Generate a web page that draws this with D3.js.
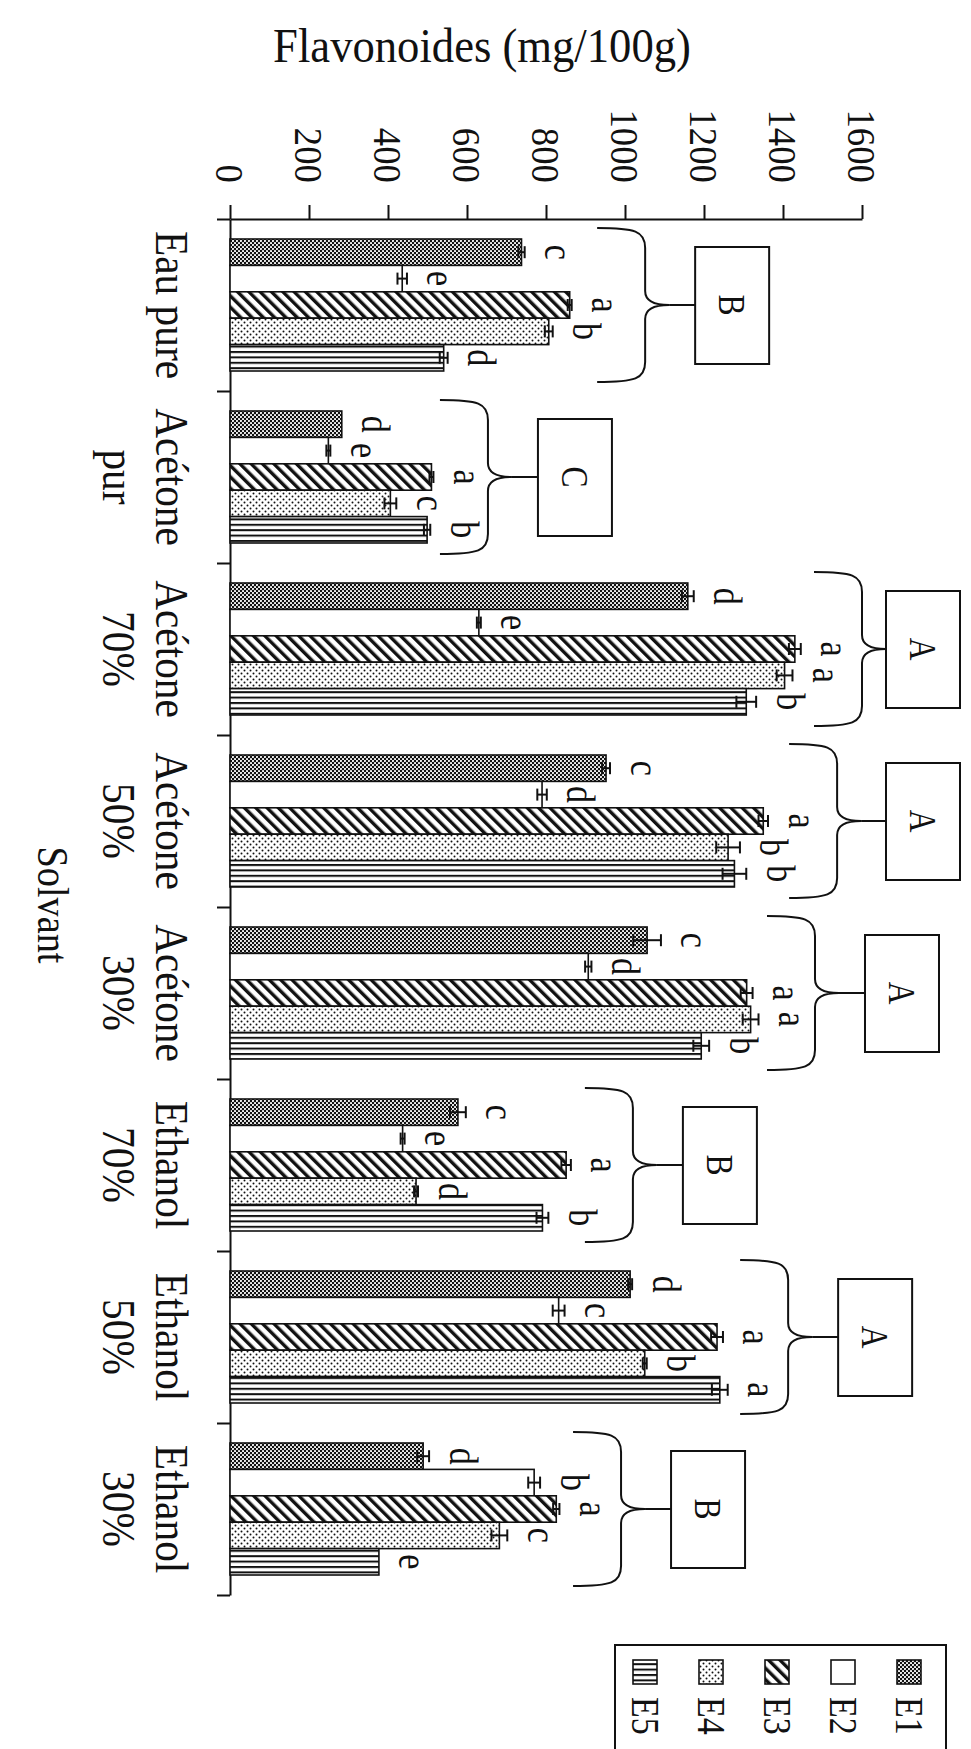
<!DOCTYPE html>
<html>
<head>
<meta charset="utf-8">
<script src="https://cdn.jsdelivr.net/npm/d3@7"></script>
<style>
  body { margin: 0; background: #fff; }
  svg { display: block; }
  text { font-family: "Liberation Serif", "Times New Roman", serif; fill: #111; }
</style>
</head>
<body>
<svg id="chart"></svg>
<script>
// solvents (chart is drawn turned a quarter, as in the scan)
const categories = ["Eau pure", "Acétone pur", "Acétone 70%", "Acétone 50%", "Acétone 30%", "Ethanol 70%", "Ethanol 50%", "Ethanol 30%"]
const categoryLines = [["Eau pure"], ["Acétone", "pur"], ["Acétone", "70%"], ["Acétone", "50%"], ["Acétone", "30%"], ["Ethanol", "70%"], ["Ethanol", "50%"], ["Ethanol", "30%"]]
const series = ["E1", "E2", "E3", "E4", "E5"]

// flavonoides (mg/100g)
const e1 = [738, 283, 1159, 952, 1056, 577, 1013, 489]
const e2 = [436, 249, 630, 790, 907, 437, 832, 770]
const e3 = [860, 510, 1430, 1350, 1308, 851, 1233, 826]
const e4 = [807, 406, 1404, 1261, 1318, 471, 1050, 682]
const e5 = [541, 499, 1307, 1277, 1193, 791, 1240, 377]

// error bars
const err1 = [8, 0, 15, 10, 35, 20, 5, 15]
const err2 = [12, 5, 5, 12, 8, 5, 15, 15]
const err3 = [5, 5, 15, 12, 15, 12, 15, 8]
const err4 = [10, 15, 20, 30, 20, 5, 5, 20]
const err5 = [10, 8, 25, 30, 20, 15, 20, 0]

// significance letters
const let1 = ["c", "d", "d", "c", "c", "c", "d", "d"]
const let2 = ["e", "e", "e", "d", "d", "e", "c", "b"]
const let3 = ["a", "a", "a", "a", "a", "a", "a", "a"]
const let4 = ["b", "c", "a", "b", "a", "d", "b", "c"]
const let5 = ["d", "b", "b", "b", "b", "b", "a", "e"]

const groupLetters = ["B", "C", "A", "A", "A", "B", "A", "B"]
// where each brace sits, in value units
const braceAt = [1051, 653, 1600, 1537, 1481, 1020, 1413, 990]

const valueTicks = [0, 200, 400, 600, 800, 1000, 1200, 1400, 1600]

const allValues = [e1, e2, e3, e4, e5]
const allErrors = [err1, err2, err3, err4, err5]
const allLetters = [let1, let2, let3, let4, let5]

const width = 971, height = 1749
const svg = d3.select("#chart").attr("width", width).attr("height", height)

const x = d3.scaleLinear().domain([0, 1600]).range([230, 862])
const y = d3.scaleBand().domain(categories).range([219, 1595])
const yIn = d3.scaleBand().domain(series).range([20, y.bandwidth() - 20])

// patterns
const defs = svg.append("defs")

const p1 = defs.append("pattern").attr("id", "pE1").attr("patternUnits", "userSpaceOnUse")
    .attr("width", 4).attr("height", 4)
p1.append("rect").attr("width", 4).attr("height", 4).attr("fill", "#111")
p1.append("circle").attr("cx", 1).attr("cy", 1).attr("r", 1.05).attr("fill", "#fff")
p1.append("circle").attr("cx", 3).attr("cy", 3).attr("r", 1.05).attr("fill", "#fff")

const p3 = defs.append("pattern").attr("id", "pE3").attr("patternUnits", "userSpaceOnUse")
    .attr("width", 8).attr("height", 8).attr("patternTransform", "rotate(-45)")
p3.append("rect").attr("width", 8).attr("height", 8).attr("fill", "#fff")
p3.append("rect").attr("width", 3.4).attr("height", 8).attr("fill", "#111")

const p4 = defs.append("pattern").attr("id", "pE4").attr("patternUnits", "userSpaceOnUse")
    .attr("width", 6).attr("height", 6)
p4.append("rect").attr("width", 6).attr("height", 6).attr("fill", "#fff")
p4.append("circle").attr("cx", 1.5).attr("cy", 1.5).attr("r", 1).attr("fill", "#111")
p4.append("circle").attr("cx", 4.5).attr("cy", 4.5).attr("r", 1).attr("fill", "#111")

const p5 = defs.append("pattern").attr("id", "pE5").attr("patternUnits", "userSpaceOnUse")
    .attr("width", 6).attr("height", 5.4)
p5.append("rect").attr("width", 6).attr("height", 5.4).attr("fill", "#fff")
p5.append("rect").attr("y", 0).attr("width", 6).attr("height", 2).attr("fill", "#111")

const fills = ["url(#pE1)", "#fff", "url(#pE3)", "url(#pE4)", "url(#pE5)"]

// rotated, slightly narrow text like the scan
function rotText(sel, px, py, txt, size, anchor, squeeze = 0.85) {
    return sel.append("text")
        .attr("transform", `translate(${px},${py}) rotate(90) scale(${squeeze},1)`)
        .attr("text-anchor", anchor)
        .style("font-size", size + "px")
        .text(txt)
}

// value axis along the top
const xAxis = svg.append("g")
    .attr("transform", "translate(0,219)")
    .call(d3.axisTop(x).tickValues(valueTicks).tickSize(14).tickSizeOuter(0).tickFormat(""))
xAxis.select(".domain").attr("stroke", "#111").attr("stroke-width", 2)
xAxis.selectAll(".tick line").attr("stroke", "#111").attr("stroke-width", 2)

valueTicks.forEach(v => {
    rotText(svg, x(v), 183, String(v), 40, "end", 0.92).attr("dominant-baseline", "central")
})

// category axis on the left, ticks at the band edges
const edge = d3.scaleLinear().domain([0, categories.length]).range(y.range())
const yAxis = svg.append("g")
    .attr("transform", "translate(230,0)")
    .call(d3.axisLeft(edge).tickValues(d3.range(categories.length + 1)).tickSize(13).tickSizeOuter(0).tickFormat(""))
yAxis.select(".domain").attr("stroke", "#111").attr("stroke-width", 2)
yAxis.selectAll(".tick line").attr("stroke", "#111").attr("stroke-width", 2)

categories.forEach((c, i) => {
    const cy = y(c) + y.bandwidth() / 2
    categoryLines[i].forEach((line, k) => {
        rotText(svg, 156 - k * 53, cy, line, 47, "middle", 0.88)
    })
})

// bars
const barData = []
categories.forEach((c, i) => {
    series.forEach((s, j) => {
        barData.push({cat: c, s: s, j: j, v: allValues[j][i], e: allErrors[j][i], l: allLetters[j][i]})
    })
})

svg.append("g").selectAll("rect")
    .data(barData)
    .enter()
    .append("rect")
    .attr("x", x(0))
    .attr("y", d => y(d.cat) + yIn(d.s))
    .attr("width", d => x(d.v) - x(0))
    .attr("height", yIn.bandwidth())
    .attr("fill", d => fills[d.j])
    .attr("stroke", "#111")
    .attr("stroke-width", 1.6)

// error bars
const errG = svg.append("g").attr("stroke", "#111").attr("stroke-width", 2)
barData.filter(d => d.e > 0).forEach(d => {
    const cy = y(d.cat) + yIn(d.s) + yIn.bandwidth() / 2
    errG.append("line").attr("x1", x(d.v - d.e)).attr("x2", x(d.v + d.e)).attr("y1", cy).attr("y2", cy)
    errG.append("line").attr("x1", x(d.v + d.e)).attr("x2", x(d.v + d.e)).attr("y1", cy - 6).attr("y2", cy + 6)
    errG.append("line").attr("x1", x(d.v - d.e)).attr("x2", x(d.v - d.e)).attr("y1", cy - 6).attr("y2", cy + 6)
})

// letters
barData.forEach(d => {
    const cy = y(d.cat) + yIn(d.s) + yIn.bandwidth() / 2
    rotText(svg, x(d.v + d.e) + 34, cy, d.l, 40, "middle").attr("dominant-baseline", "central")
})

// braces and group boxes
const braceG = svg.append("g").attr("fill", "none").attr("stroke", "#111").attr("stroke-width", 2)
categories.forEach((c, i) => {
    const cy = y(c) + y.bandwidth() / 2
    const bx = x(braceAt[i])
    const y0 = cy - 77, y1 = cy + 77
    const curl = 48, tip = 24
    const path = d3.path()
    path.moveTo(bx - curl, y0)
    path.bezierCurveTo(bx - 10, y0, bx, y0 + 3, bx, y0 + 20)
    path.lineTo(bx, cy - 14)
    path.bezierCurveTo(bx, cy - 4, bx + 8, cy, bx + tip, cy)
    path.bezierCurveTo(bx + 8, cy, bx, cy + 4, bx, cy + 14)
    path.lineTo(bx, y1 - 20)
    path.bezierCurveTo(bx, y1 - 3, bx - 10, y1, bx - curl, y1)
    braceG.append("path").attr("d", path.toString())

    const boxX = Math.min(bx + 50, 886)
    braceG.append("line").attr("x1", bx + tip).attr("x2", boxX).attr("y1", cy).attr("y2", cy)
    braceG.append("rect").attr("x", boxX).attr("y", cy - 58).attr("width", 74).attr("height", 117)
        .attr("fill", "#fff")
    rotText(svg, boxX + 37, cy, groupLetters[i], 37, "middle").attr("dominant-baseline", "central")
})

// axis titles
svg.append("text")
    .attr("transform", "translate(482,62) scale(0.93,1)")
    .attr("text-anchor", "middle")
    .style("font-size", "48px")
    .text("Flavonoides (mg/100g)")

rotText(svg, 38, 905, "Solvant", 45, "middle")

// legend
const legend = svg.append("g")
legend.append("rect").attr("x", 615).attr("y", 1645).attr("width", 331).attr("height", 130)
    .attr("fill", "#fff").attr("stroke", "#111").attr("stroke-width", 2)
series.forEach((s, j) => {
    const cx = 909 - j * 66
    legend.append("rect").attr("x", cx - 12).attr("y", 1660).attr("width", 24).attr("height", 24)
        .attr("fill", fills[j]).attr("stroke", "#111").attr("stroke-width", 1.6)
    rotText(legend, cx, 1697, s, 40, "start").attr("dominant-baseline", "central")
})
</script>
</body>
</html>
